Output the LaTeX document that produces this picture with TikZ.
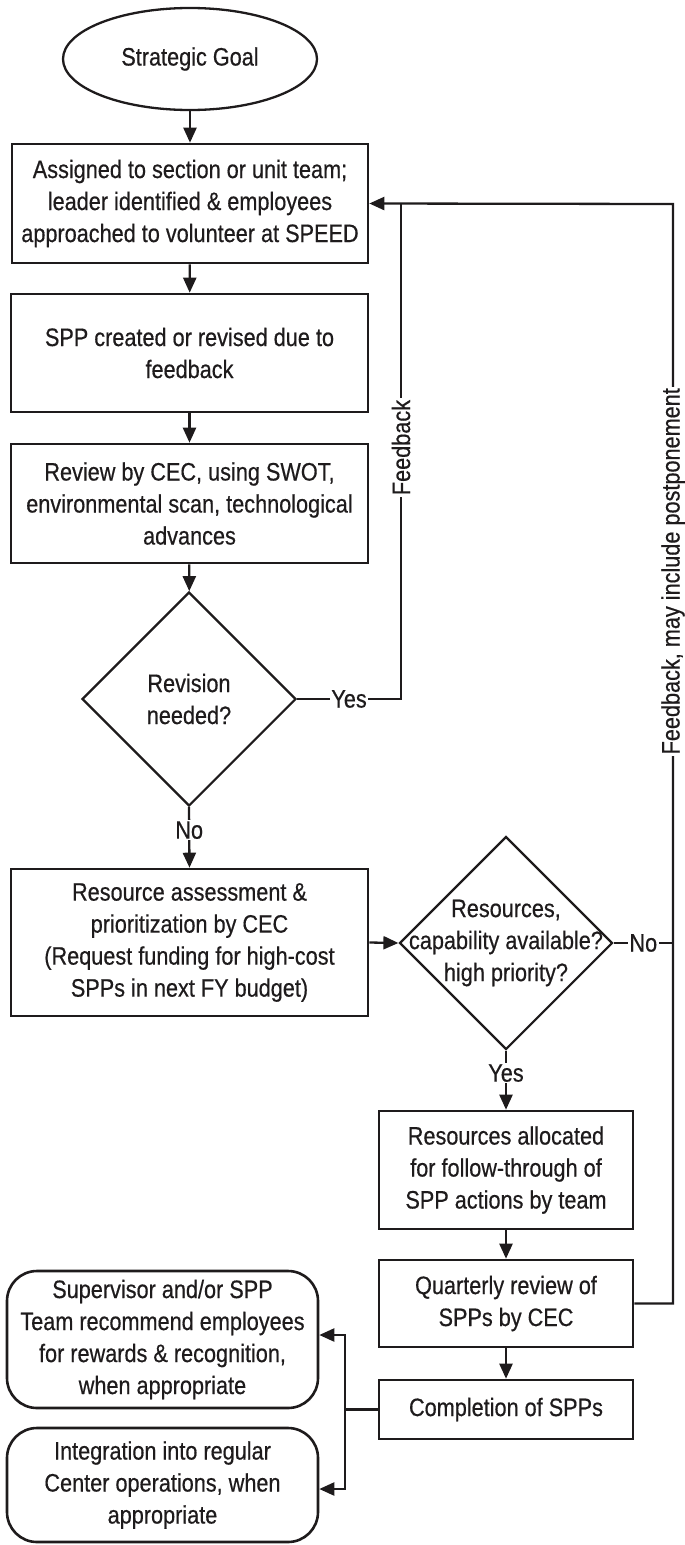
\documentclass[tikz,border=0pt]{standalone}
\usepackage{fontspec}
\setmainfont{Liberation Sans}[FakeStretch=0.86, FakeBold=0.5]
\usetikzlibrary{shapes.geometric,arrows.meta}
\definecolor{ink}{RGB}{30,27,28}
\begin{document}
\begin{tikzpicture}[x=1pt,y=-1pt,
  every node/.style={font=\fontsize{25.2}{32}\selectfont, text=ink},
  procbox/.style={draw=ink, line width=2.6pt, rectangle, align=center, inner sep=0pt},
  endbox/.style={draw=ink, line width=2.6pt, rectangle, rounded corners=30pt, align=center, inner sep=0pt},
  startshape/.style={draw=ink, line width=2.3pt, ellipse, inner sep=0pt},
  decision/.style={draw=ink, line width=2.2pt, diamond, inner sep=0pt},
  conn/.style={draw=ink, line width=2.3pt},
  arrow/.style={conn, -{Triangle[length=15pt,width=13pt]}},
  lbl/.style={fill=white, inner sep=1.5pt}
]
\useasboundingbox (0,0) rectangle (685,1545);

% main column
\node[startshape, minimum width=254, minimum height=102] (goal) at (190,59) {Strategic Goal};
\node[procbox, minimum width=356, minimum height=119] (assign) at (190,203.5)
  {Assigned to section or unit team;\\leader identified \& employees\\approached to volunteer at SPEED};
\node[procbox, minimum width=357, minimum height=118] (spp) at (189.5,353)
  {SPP created or revised due to\\feedback};
\node[procbox, minimum width=357, minimum height=119] (review) at (189.5,503.5)
  {Review by CEC, using SWOT,\\environmental scan, technological\\advances};
\node[decision, minimum width=214, minimum height=214] (rev) at (189,699) {};
\node[align=center] (revtxt) at (rev) {Revision\\needed?};
\node[procbox, minimum width=357, minimum height=147] (assess) at (189.5,942.5)
  {Resource assessment \&\\prioritization by CEC\\(Request funding for high-cost\\SPPs in next FY budget)};

% right column
\node[decision, minimum width=213, minimum height=213] (res) at (506,943) {};
\node[align=center] (restxt) at (res) {Resources,\\capability available?\\high priority?};
\node[procbox, minimum width=254, minimum height=118] (alloc) at (506,1170)
  {Resources allocated\\for follow-through of\\SPP actions by team};
\node[procbox, minimum width=254, minimum height=87] (quarter) at (506,1303.5)
  {Quarterly review of\\SPPs by CEC};
\node[procbox, minimum width=254, minimum height=59] (done) at (506,1409.5)
  {Completion of SPPs};

% outcomes
\node[endbox, minimum width=311, minimum height=137] (reward) at (162.5,1339.5)
  {Supervisor and/or SPP\\Team recommend employees\\for rewards \& recognition,\\when appropriate};
\node[endbox, minimum width=311, minimum height=114] (integ) at (162.5,1485)
  {Integration into regular\\Center operations, when\\appropriate};

% routing points
\coordinate (fbjoin) at (401,204);
\coordinate (ptop) at (673,204);
\coordinate (fork) at (345,1409.5);

% straight flow
\draw[arrow] (goal) -- (assign);
\draw[arrow] (assign) -- (spp);
\draw[arrow] (spp) -- (review);
\draw[arrow] (review) -- (rev);
\draw[arrow] (rev.south) -- node[lbl, pos=0.38] {No} (assess.north);
\draw[arrow] (assess.east) -- (res.west);
\draw[arrow] (res.south) -- node[lbl, pos=0.38] {Yes} (alloc.north);
\draw[arrow] (alloc) -- (quarter);
\draw[arrow] (quarter) -- (done);

% feedback loops
\draw[conn] (rev.east) -| node[lbl, pos=0.25] {Yes}
  node[lbl, rotate=90, pos=0.754] {Feedback} (fbjoin);
\draw[arrow] (quarter.east) -| node[lbl, rotate=90, pos=0.833] {Feedback, may include postponement}
  (ptop) -- (assign.east);
\draw[conn] (res.east) -- node[lbl] {No} (res.east -| ptop);

% completion outcomes
\draw[conn] (done.west) -- (fork);
\draw[arrow] (fork) |- ([yshift=4.5pt]reward.east);
\draw[arrow] (fork) |- ([yshift=-4pt]integ.east);
\end{tikzpicture}
\end{document}
